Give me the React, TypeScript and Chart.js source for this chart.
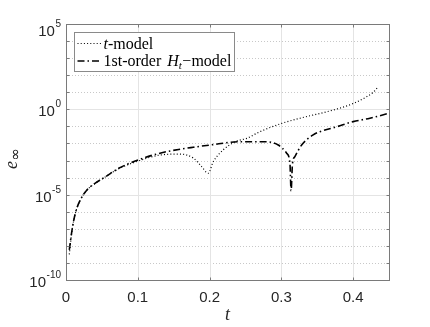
import React, { useEffect, useRef } from "react";
import { Chart, registerables } from "chart.js";

Chart.register(...registerables);

// ---- data ----
const tModelT = [0.0046, 0.0084, 0.013, 0.0199, 0.0292, 0.0408, 0.0547, 0.0734, 0.1007, 0.1309, 0.1588, 0.1773, 0.189, 0.1982, 0.2051, 0.2191, 0.2354, 0.2517, 0.2702, 0.3004, 0.3259, 0.3723, 0.4001, 0.4188, 0.428, 0.435];
const tModelE = [3.2e-9, 7.9e-8, 7.9e-7, 4.8e-6, 1.86e-5, 4.6e-5, 1.1e-4, 3.3e-4, 9.3e-4, 2.1e-3, 2.4e-3, 1.4e-3, 4.4e-4, 1.8e-4, 8.5e-4, 4.2e-3, 1.26e-2, 2.0e-2, 4.9e-2, 0.15, 0.3, 0.91, 2.2, 5.5, 10, 21];

const hModelT = [0.0046, 0.0084, 0.013, 0.0199, 0.0292, 0.0408, 0.0547, 0.0734, 0.1007, 0.1309, 0.1588, 0.1773, 0.2006, 0.2423, 0.2772, 0.2957, 0.3074, 0.312, 0.3136, 0.3155, 0.3189, 0.3283, 0.3444, 0.3538, 0.377, 0.4001, 0.4234, 0.4499];
const hModelE = [5.8e-9, 8.5e-8, 8.1e-7, 4.9e-6, 1.9e-5, 4.7e-5, 1.1e-4, 3.5e-4, 1.1e-3, 2.7e-3, 4.6e-3, 6.0e-3, 8.1e-3, 1.26e-2, 1.26e-2, 8.1e-3, 2.7e-3, 6.9e-4, 1.66e-5, 6.3e-4, 1.7e-3, 8.1e-3, 3.2e-2, 4.9e-2, 9.5e-2, 0.19, 0.3, 0.59];

const xTickValues = [0, 0.1, 0.2, 0.3, 0.4];
const xTickLabels = ["0", "0.1", "0.2", "0.3", "0.4"];
const yMajorExponents = [-10, -5, 0, 5];
const yDecadeExponents = [-10, -9, -8, -7, -6, -5, -4, -3, -2, -1, 0, 1, 2, 3, 4, 5];

const xRange = [0, 0.45];
const yRange = [1e-10, 1e5];

const AXIS_FONT = '"Liberation Sans", Arial, Helvetica, sans-serif';
const SERIF = '"Liberation Serif", "Times New Roman", serif';

const decorPlugin = {
  id: "decor",
  beforeDatasetsDraw(chart: any) {
    const { ctx, chartArea: a, scales } = chart;
    const x = scales.x;
    const y = scales.y;
    ctx.save();
    ctx.lineWidth = 1;
    // minor dotted horizontal grid
    ctx.strokeStyle = "#c8c8c8";
    ctx.setLineDash([1, 2]);
    for (const e of yDecadeExponents) {
      if (yMajorExponents.includes(e)) continue;
      const py = Math.round(y.getPixelForValue(Math.pow(10, e))) + 0.5;
      ctx.beginPath();
      ctx.moveTo(a.left, py);
      ctx.lineTo(a.right, py);
      ctx.stroke();
    }
    ctx.setLineDash([]);
    ctx.strokeStyle = "#e4e4e4";
    for (const e of yMajorExponents) {
      const py = Math.round(y.getPixelForValue(Math.pow(10, e))) + 0.5;
      ctx.beginPath();
      ctx.moveTo(a.left, py);
      ctx.lineTo(a.right, py);
      ctx.stroke();
    }
    for (const v of xTickValues) {
      const px = Math.round(x.getPixelForValue(v)) + 0.5;
      ctx.beginPath();
      ctx.moveTo(px, a.top);
      ctx.lineTo(px, a.bottom);
      ctx.stroke();
    }
    ctx.restore();
  },
  afterDatasetsDraw(chart: any) {
    const { ctx, chartArea: a, scales } = chart;
    const x = scales.x;
    const y = scales.y;
    ctx.save();
    // axes box
    ctx.strokeStyle = "#7a7a7a";
    ctx.lineWidth = 1;
    const L = Math.round(a.left) + 0.5;
    const R = Math.round(a.right) + 0.5;
    const T = Math.round(a.top) + 0.5;
    const B = Math.round(a.bottom) + 0.5;
    ctx.strokeRect(L, T, R - L, B - T);
    // ticks
    ctx.beginPath();
    for (const e of yDecadeExponents) {
      const py = Math.round(y.getPixelForValue(Math.pow(10, e))) + 0.5;
      ctx.moveTo(L, py);
      ctx.lineTo(L + 3, py);
      ctx.moveTo(R, py);
      ctx.lineTo(R - 3, py);
    }
    for (const v of xTickValues) {
      const px = Math.round(x.getPixelForValue(v)) + 0.5;
      ctx.moveTo(px, B);
      ctx.lineTo(px, B - 3);
      ctx.moveTo(px, T);
      ctx.lineTo(px, T + 3);
    }
    ctx.stroke();

    // x tick labels
    ctx.fillStyle = "#262626";
    ctx.font = `15px ${AXIS_FONT}`;
    ctx.textAlign = "center";
    ctx.textBaseline = "alphabetic";
    xTickValues.forEach((v, i) => {
      ctx.fillText(xTickLabels[i], x.getPixelForValue(v), a.bottom + 22);
    });

    // y tick labels 10^n
    ctx.textAlign = "left";
    for (const e of yMajorExponents) {
      const py = y.getPixelForValue(Math.pow(10, e));
      const base = "10";
      const sup = String(e);
      ctx.font = `15px ${AXIS_FONT}`;
      const bw = ctx.measureText(base).width;
      ctx.font = `10px ${AXIS_FONT}`;
      const sw = ctx.measureText(sup).width;
      const right = a.left - 5;
      const baseline = Math.max(py + 7, a.top + 12);
      ctx.font = `15px ${AXIS_FONT}`;
      ctx.fillText(base, right - sw - bw - 0.5, baseline);
      ctx.font = `10px ${AXIS_FONT}`;
      ctx.fillText(sup, right - sw, baseline - 9);
    }

    // x title
    ctx.font = `italic 18px ${SERIF}`;
    ctx.textAlign = "center";
    ctx.fillText("t", (a.left + a.right) / 2, a.bottom + 40);

    // y title e_inf (rotated)
    ctx.save();
    ctx.translate(17, (a.top + a.bottom) / 2 + 17);
    ctx.rotate(-Math.PI / 2);
    ctx.textAlign = "left";
    ctx.font = `italic 18px ${SERIF}`;
    ctx.fillText("e", 0, 0);
    const ew = ctx.measureText("e").width;
    ctx.font = `15px "DejaVu Sans", sans-serif`;
    ctx.fillText("\u221E", ew + 0.5, 3);
    ctx.restore();

    // legend
    const lx = a.left + 8;
    const ly = a.top + 8;
    const lw = 160;
    const lh = 39;
    ctx.fillStyle = "#ffffff";
    ctx.fillRect(lx, ly, lw, lh);
    ctx.strokeStyle = "#8a8a8a";
    ctx.lineWidth = 1;
    ctx.strokeRect(Math.round(lx) + 0.5, Math.round(ly) + 0.5, lw, lh);
    const ds = chart.data.datasets;
    const rows = [ds[1], ds[0]];
    rows.forEach((d: any, i: number) => {
      const cy = ly + 11.5 + i * 17.5;
      ctx.save();
      ctx.strokeStyle = d.borderColor;
      ctx.lineWidth = d.borderWidth;
      ctx.setLineDash(d.borderDash);
      ctx.beginPath();
      ctx.moveTo(lx + 3.5, cy);
      ctx.lineTo(lx + 27.5, cy);
      ctx.stroke();
      ctx.restore();
      ctx.fillStyle = "#000";
      ctx.textAlign = "left";
      let tx = lx + 29.5;
      const bl = cy + 5;
      const parts: any[] = d.richLabel;
      for (const p of parts) {
        ctx.font = p.font;
        ctx.fillText(p.text, tx, bl + (p.dy || 0));
        tx += ctx.measureText(p.text).width + (p.after || 0);
      }
    });
    ctx.restore();
  },
};

export default function App() {
  const ref = useRef<HTMLCanvasElement | null>(null);
  useEffect(() => {
    if (!ref.current) return;
    const chart = new Chart(ref.current, {
      type: "line",
      data: {
        datasets: [
          {
            label: "1st-order Ht\u2212model",
            data: hModelT.map((t, i) => ({ x: t, y: hModelE[i] })),
            borderColor: "#000000",
            borderWidth: 1.6,
            borderDash: [7, 3, 1.5, 3],
            pointRadius: 0,
            fill: false,
            cubicInterpolationMode: "monotone",
            richLabel: [
              { text: "1st-order ", font: `16px ${SERIF}`, after: 2 },
              { text: "H", font: `italic 16px ${SERIF}` },
              { text: "t", font: `italic 11px ${SERIF}`, dy: 3, after: 0.5 },
              { text: "\u2212model", font: `16px ${SERIF}` },
            ],
          } as any,
          {
            label: "t-model",
            data: tModelT.map((t, i) => ({ x: t, y: tModelE[i] })),
            borderColor: "#000000",
            borderWidth: 1.2,
            borderDash: [1, 2.2],
            pointRadius: 0,
            fill: false,
            cubicInterpolationMode: "monotone",
            richLabel: [
              { text: "t", font: `italic 16px ${SERIF}` },
              { text: "-model", font: `16px ${SERIF}` },
            ],
          } as any,
        ],
      },
      options: {
        animation: false,
        responsive: false,
        devicePixelRatio: 1,
        layout: { padding: { left: 66, right: 41, top: 24, bottom: 47 } },
        plugins: { legend: { display: false }, tooltip: { enabled: false } },
        scales: {
          x: { type: "linear", min: xRange[0], max: xRange[1], display: false },
          y: { type: "logarithmic", min: yRange[0], max: yRange[1], display: false },
        },
      },
      plugins: [decorPlugin],
    });
    return () => chart.destroy();
  }, []);
  return (
    <div style={{ position: "fixed", left: 0, top: 0, width: 430, height: 327, background: "#fff" }}>
      <canvas ref={ref} width={430} height={327} style={{ width: 430, height: 327, display: "block" }} />
    </div>
  );
}
